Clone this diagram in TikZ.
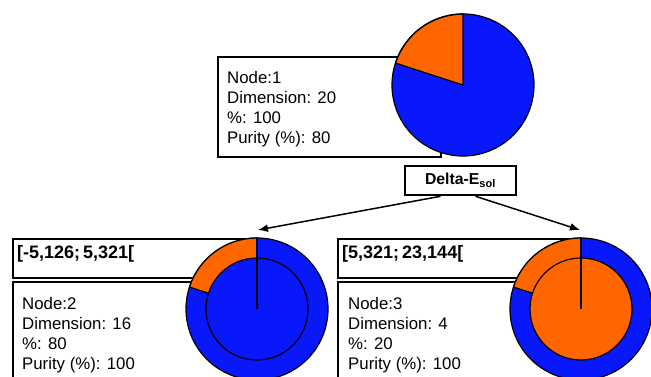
\documentclass[tikz,border=0pt]{standalone}
\usepackage{fontspec}
\setmainfont{Liberation Sans}
\usetikzlibrary{arrows.meta}
\definecolor{pieblue}{RGB}{8,24,250}
\definecolor{pieorange}{RGB}{255,102,0}
\tikzset{
  infobox/.style={draw=black, line width=1.6pt, fill=white, rectangle, inner sep=0pt, anchor=north west},
  deltabox/.style={draw=black, line width=2.6pt, fill=white, rectangle, inner sep=0pt,
                   minimum width=111pt, minimum height=29pt, font=\fontsize{15.8}{18}\selectfont\bfseries},
  infotext/.style={anchor=base west, inner sep=0pt, font=\fontsize{16.8}{20}\selectfont},
  intervaltext/.style={anchor=base west, inner sep=0pt, font=\fontsize{18}{20}\selectfont\bfseries},
  pieline/.style={draw=black, line width=1.2pt},
  arr/.style={line width=1.5pt, -{Latex[length=10pt,width=8pt]}},
}
\begin{document}
\begin{tikzpicture}[x=1pt,y=1pt]
\useasboundingbox (0,0) rectangle (651,-377);
\clip (0,0) rectangle (651,-377);
\fill[white] (0,0) rectangle (651,-377);

% ---------- top node ----------
\node[infobox, minimum width=223pt, minimum height=100pt] (b1) at (217,-56) {};
\node[infotext] (t1a) at (227,-84) {Node:1};
\node[infotext] (t1b) at (227,-104) {Dimension: 20};
\node[infotext] (t1c) at (227,-124) {\%: 100};
\node[infotext] (t1d) at (227,-144) {Purity (\%): 80};

\coordinate (p1) at (463,-85);
\fill[pieblue] (p1) circle[radius=71];
\filldraw[fill=pieorange, pieline] (p1) -- ++(90:71) arc[start angle=90, end angle=162, radius=71] -- cycle;
\draw[pieline] (p1) circle[radius=71];

% ---------- split box ----------
\node[deltabox] (d) at (460.5,-180.5) {Delta-E\textsubscript{sol}};

% ---------- left child ----------
\node[infobox, minimum width=245pt, minimum height=39pt] (i2) at (12,-238) {};
\node[intervaltext] (i2t) at (17,-258) {[-5,126;\,5,321[};
\node[infobox, minimum width=230pt, minimum height=120pt] (b2) at (12,-281) {};
\node[infotext] (t2a) at (22,-309) {Node:2};
\node[infotext] (t2b) at (22,-329) {Dimension: 16};
\node[infotext] (t2c) at (22,-349) {\%: 80};
\node[infotext] (t2d) at (22,-369) {Purity (\%): 100};

\coordinate (p2) at (257,-309);
\filldraw[fill=pieblue, pieline] (p2) circle[radius=71];
\filldraw[fill=pieorange, pieline] (p2) -- ++(90:71) arc[start angle=90, end angle=162, radius=71] -- cycle;
\filldraw[fill=pieblue, pieline] (p2) circle[radius=51];
\coordinate (p2top) at (257,-238);
\draw[pieline] (p2) -- (p2top);

% ---------- right child ----------
\node[infobox, minimum width=244pt, minimum height=39pt] (i3) at (337,-238) {};
\node[intervaltext] (i3t) at (342,-258) {[5,321;\,23,144[};
\node[infobox, minimum width=230pt, minimum height=120pt] (b3) at (337,-281) {};
\node[infotext] (t3a) at (348,-309) {Node:3};
\node[infotext] (t3b) at (348,-329) {Dimension: 4};
\node[infotext] (t3c) at (348,-349) {\%: 20};
\node[infotext] (t3d) at (348,-369) {Purity (\%): 100};

\coordinate (p3) at (581,-309);
\filldraw[fill=pieblue, pieline] (p3) circle[radius=71];
\filldraw[fill=pieorange, pieline] (p3) -- ++(90:71) arc[start angle=90, end angle=162, radius=71] -- cycle;
\filldraw[fill=pieorange, pieline] (p3) circle[radius=51];
\coordinate (p3top) at (581,-238);
\draw[pieline] (p3) -- (p3top);

% ---------- arrows ----------
\coordinate (a2) at (258,-230);
\coordinate (a3) at (580,-230);
\draw[arr] ([xshift=-20pt]d.south) -- (a2);
\draw[arr] ([xshift=15pt]d.south) -- (a3);
\end{tikzpicture}
\end{document}
